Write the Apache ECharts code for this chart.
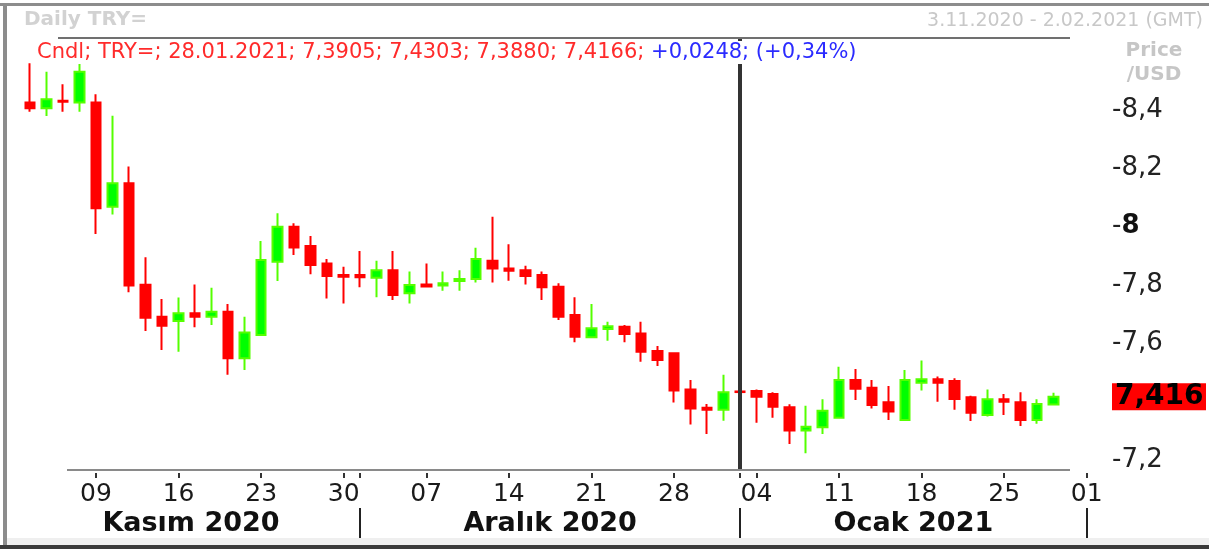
<!DOCTYPE html>
<html><head><meta charset="utf-8">
<script src="https://cdn.jsdelivr.net/npm/echarts@6/dist/echarts.min.js"></script>
<style>html,body{margin:0;padding:0;background:#fff}#c{width:1209px;height:549px}</style>
</head><body><div id="c"></div>
<script>
// ---- data ----
const dates = [
 '2020-11-03','2020-11-04','2020-11-05','2020-11-06',
 '2020-11-09','2020-11-10','2020-11-11','2020-11-12','2020-11-13',
 '2020-11-16','2020-11-17','2020-11-18','2020-11-19','2020-11-20',
 '2020-11-23','2020-11-24','2020-11-25','2020-11-26','2020-11-27',
 '2020-11-30','2020-12-01','2020-12-02','2020-12-03','2020-12-04',
 '2020-12-07','2020-12-08','2020-12-09','2020-12-10','2020-12-11',
 '2020-12-14','2020-12-15','2020-12-16','2020-12-17','2020-12-18',
 '2020-12-21','2020-12-22','2020-12-23','2020-12-24','2020-12-25',
 '2020-12-28','2020-12-29','2020-12-30','2020-12-31','2021-01-01',
 '2021-01-04','2021-01-05','2021-01-06','2021-01-07','2021-01-08',
 '2021-01-11','2021-01-12','2021-01-13','2021-01-14','2021-01-15',
 '2021-01-18','2021-01-19','2021-01-20','2021-01-21','2021-01-22',
 '2021-01-25','2021-01-26','2021-01-27','2021-01-28','2021-01-29',
 '2021-02-01'
];
const opens = [8.426,8.406,8.432,8.426, 8.426,8.068,8.149,7.801,7.691, 7.677,7.703,7.691,7.708,7.549,
 7.629,7.880,8.000,7.934,7.874, 7.834,7.834,7.825,7.851,7.772, 7.802,7.798,7.814,7.821,7.883,
 7.857,7.851,7.834,7.794,7.697, 7.621,7.649,7.657,7.634,7.574, 7.566,7.442,7.379,7.372,7.435,
 7.437,7.426,7.381,7.301,7.312, 7.345,7.474,7.448,7.398,7.337, 7.465,7.477,7.471,7.415,7.354,
 7.408,7.398,7.337,7.3905];
const highs = [8.560,8.531,8.488,8.564, 8.454,8.380,8.206,7.895,7.752, 7.757,7.802,7.791,7.735,7.691,
 7.951,8.046,8.012,7.968,7.889, 7.863,7.917,7.883,7.917,7.846, 7.874,7.846,7.851,7.928,8.034,
 7.940,7.866,7.846,7.806,7.758, 7.735,7.674,7.663,7.674,7.591, 7.568,7.474,7.392,7.492,7.435,
 7.442,7.432,7.391,7.386,7.408, 7.520,7.512,7.474,7.454,7.509, 7.541,7.486,7.480,7.420,7.442,
 7.426,7.432,7.408,7.4303];
const lows = [8.394,8.379,8.394,8.394, 7.975,8.042,7.775,7.642,7.577, 7.571,7.655,7.663,7.492,7.509,
 7.625,7.814,7.903,7.837,7.754, 7.737,7.792,7.758,7.749,7.737, 7.792,7.780,7.780,7.809,7.809,
 7.815,7.802,7.749,7.680,7.604, 7.618,7.609,7.604,7.537,7.522, 7.397,7.322,7.289,7.335,7.433,
 7.328,7.345,7.255,7.223,7.289, 7.343,7.406,7.377,7.337,7.335, 7.438,7.400,7.372,7.334,7.349,
 7.354,7.317,7.324,7.3880];
const closes = [8.406,8.437,8.428,8.531, 8.063,8.149,7.798,7.688,7.660, 7.703,7.691,7.708,7.549,7.637,
 7.886,8.000,7.929,7.869,7.831, 7.828,7.827,7.851,7.766,7.800, 7.795,7.806,7.821,7.889,7.857,
 7.849,7.831,7.792,7.691,7.623, 7.652,7.659,7.632,7.571,7.543, 7.438,7.377,7.372,7.432,7.433,
 7.417,7.383,7.301,7.314,7.369, 7.474,7.444,7.389,7.366,7.474, 7.477,7.465,7.409,7.362,7.408,
 7.400,7.337,7.3918,7.4166];
const yTicks = [7.2, 7.6, 7.8, 8.0, 8.2, 8.4];
const monthNames = ['Kasım 2020', 'Aralık 2020', 'Ocak 2021'];
const symbolName = 'TRY=';
const rangeEnd = '2.02.2021';
const dividerDate = '2021-01-01';

// ---- derived ----
const comma = s => s.replace('.', ',');
const dmy = (d, pad) => { const p = d.split('-'); return (pad ? p[2] : String(+p[2])) + '.' + p[1] + '.' + p[0]; };
const candleData = dates.map((d, i) => i < closes.length ? [opens[i], closes[i], lows[i], highs[i]] : '-');
const isMonday = d => new Date(d + 'T00:00:00Z').getUTCDay() === 1;
const monthStarts = [];
dates.forEach((d, i) => { if (i > 0 && d.slice(5, 7) !== dates[i - 1].slice(5, 7)) monthStarts.push(i); });
const bounds = [-0.5].concat(monthStarts);
const monthCenters = monthNames.map((m, k) => (bounds[k] + bounds[k + 1]) / 2);
const last = closes.length - 1;
const chg = closes[last] - closes[last - 1];
const pct = chg / closes[last - 1] * 100;
const sgn = v => (v >= 0 ? '+' : '-');
const infoRed = ['Cndl', symbolName, dmy(dates[last], true)].concat(
  [opens[last], highs[last], lows[last], closes[last]].map(v => comma(v.toFixed(4)))).join('; ') + '; ';
const infoBlue = sgn(chg) + comma(Math.abs(chg).toFixed(4)) + '; (' + sgn(pct) + comma(Math.abs(pct).toFixed(2)) + '%)';
const tagValue = closes[last];

const FONT = 'DejaVu Sans';
const yMin = 7.1658, yMax = 8.6468;

const chart = echarts.init(document.getElementById('c'), null, {renderer: 'canvas'});
chart.setOption({
  animation: false,
  backgroundColor: '#fff',
  title: [
    {text: 'Daily ' + symbolName, left: 24, top: 10, padding: 0,
     textStyle: {fontFamily: FONT, fontSize: 20, fontWeight: 'bold', color: '#d2d2d2'}},
    {text: dmy(dates[0], false) + ' - ' + rangeEnd + ' (GMT)', right: 6, top: 12, padding: 0,
     textStyle: {fontFamily: FONT, fontSize: 19, fontWeight: 'normal', color: '#c8c8c8'}},
    {text: 'Price\n/USD', left: 1154, textAlign: 'center', top: 39, padding: 0,
     textStyle: {fontFamily: FONT, fontSize: 20, fontWeight: 'bold', color: '#c6c6c6', lineHeight: 24}},
    {text: '{r|' + infoRed + '}{b|' + infoBlue + '}', left: 33, top: 41, padding: [1, 4, 1, 4], backgroundColor: '#fff', z: 20,
     textStyle: {fontWeight: 'normal', rich: {
       r: {fontFamily: FONT, fontSize: 21, fontWeight: 'normal', color: '#ff2b2b'},
       b: {fontFamily: FONT, fontSize: 21, fontWeight: 'normal', color: '#2b2bff'}}}}
  ],
  grid: {left: 21.71, right: 109.6, top: 38, bottom: 79, containLabel: false},
  xAxis: [{
    type: 'category', data: dates, boundaryGap: true, offset: 3,
    axisLine: {show: false},
    axisTick: {show: true, alignWithLabel: true, length: 5, lineStyle: {color: '#333', width: 2},
      interval: (i, v) => isMonday(v) || monthStarts.indexOf(i) >= 0},
    axisLabel: {interval: (i, v) => isMonday(v), formatter: v => v.slice(8, 10), margin: 9,
      fontFamily: FONT, fontSize: 25, color: '#1a1a1a'},
    splitLine: {show: false}
  }, {
    type: 'value', min: -0.5, max: dates.length - 0.5, position: 'bottom', offset: 38,
    axisLine: {show: false}, splitLine: {show: false},
    axisTick: {show: true, customValues: monthStarts, length: 30, inside: false, lineStyle: {color: '#222', width: 2}},
    axisLabel: {customValues: monthCenters, margin: 2,
      formatter: v => { let k = 0, best = 1e9; monthCenters.forEach((c, j) => { if (Math.abs(c - v) < best) { best = Math.abs(c - v); k = j; } }); return monthNames[k]; },
      fontFamily: FONT, fontSize: 27, fontWeight: 'bold', color: '#111'}
  }],
  yAxis: [{
    type: 'value', position: 'right', min: yMin, max: yMax, scale: true,
    axisLine: {show: false}, axisTick: {show: false}, splitLine: {show: false},
    axisLabel: {customValues: yTicks, margin: 17, align: 'left',
      formatter: v => { const s = String(+v.toFixed(1)); return Number.isInteger(+s) ? '-{b|' + s + '}' : '-' + comma(s); },
      fontFamily: FONT, fontSize: 26, color: '#222',
      rich: {b: {fontFamily: FONT, fontSize: 26, fontWeight: 'bold', color: '#111'}}}
  }, {
    type: 'value', position: 'right', min: yMin, max: yMax, scale: true,
    axisLine: {show: false}, axisTick: {show: false}, splitLine: {show: false},
    axisLabel: {customValues: [tagValue], margin: 17, align: 'left',
      formatter: v => comma((Math.floor(v * 1000) / 1000).toFixed(3)),
      fontFamily: FONT, fontSize: 28, fontWeight: 'bold', color: '#000',
      backgroundColor: '#ff0000', padding: [0, 1, 0, 3], lineHeight: 27, width: 90}
  }],
  series: [{
    type: 'candlestick', data: candleData, barWidth: 10,
    itemStyle: {color: '#00ff00', color0: '#ff0000', borderColor: '#55ff00', borderColor0: '#ff0000', borderWidth: 2},
    emphasis: {disabled: true},
    markLine: {silent: true, symbol: ['none', 'none'], label: {show: false},
      lineStyle: {color: '#333', width: 4, type: 'solid'},
      emphasis: {disabled: true},
      data: [{xAxis: dividerDate}]}
  }],
  graphic: [
    {type: 'rect', shape: {x: 0, y: 3, width: 1209, height: 3}, style: {fill: '#8c8c8c'}, z: 50},
    {type: 'rect', shape: {x: 3, y: 3, width: 4, height: 546}, style: {fill: '#8c8c8c'}, z: 50},
    {type: 'rect', shape: {x: 58, y: 37, width: 1012, height: 2}, style: {fill: '#707070'}, z: 50},
    {type: 'rect', shape: {x: 67, y: 469, width: 1003, height: 2}, style: {fill: '#8a8a8a'}, z: 50},
    {type: 'rect', shape: {x: 7, y: 538, width: 1202, height: 7}, style: {fill: '#efefef'}, z: 1},
    {type: 'rect', shape: {x: 0, y: 545, width: 1209, height: 4}, style: {fill: '#3a3a3a'}, z: 50}
  ]
});
</script></body></html>
